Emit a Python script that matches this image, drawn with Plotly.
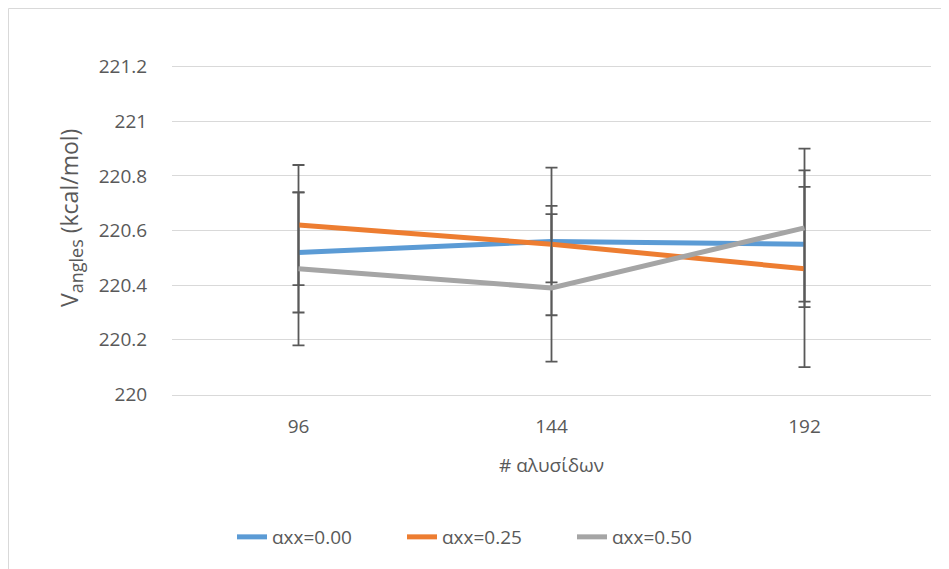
import plotly.graph_objects as go

categories = ["96", "144", "192"]
series_names = ["αxx=0.00", "αxx=0.25", "αxx=0.50"]
v_000 = [220.52, 220.56, 220.55]
v_025 = [220.62, 220.55, 220.46]
v_050 = [220.46, 220.39, 220.61]
err_000 = [0.22, 0.27, 0.21]
err_025 = [0.22, 0.14, 0.36]
err_050 = [0.28, 0.27, 0.29]
y_ticks = [220, 220.2, 220.4, 220.6, 220.8, 221, 221.2]

colors = ["#5B9BD5", "#ED7D31", "#A5A5A5"]
font_family = "'Open Sans', sans-serif"
text_color = "#595959"

OFF = 8  # page body margin
W, H = 949, 569
L, R, T, B = 164, 26, 57, 182
pw, ph = W - L - R, H - T - B

def px_x(p):
    return (p - OFF - L) / pw

def px_y(p):
    return (H - B - (p - OFF)) / ph

fig = go.Figure()
for name, vals, errs, col in zip(series_names, [v_000, v_025, v_050],
                                 [err_000, err_025, err_050], colors):
    fig.add_trace(go.Scatter(
        x=categories, y=vals, name=name, mode="lines",
        line=dict(color=col, width=5),
        error_y=dict(type="data", array=errs, visible=True,
                     color="#595959", thickness=1.8, width=6),
    ))

fig.update_layout(
    width=W, height=H,
    margin=dict(l=L, r=R, t=T, b=B),
    paper_bgcolor="white", plot_bgcolor="white",
    font=dict(family=font_family, color=text_color, size=19),
    showlegend=True,
    legend=dict(orientation="h", x=px_x(232), y=px_y(537),
                xanchor="left", yanchor="middle",
                font=dict(size=19, color=text_color),
                entrywidth=125, entrywidthmode="pixels",
                tracegroupgap=0),
    xaxis=dict(type="category", range=[-0.5, 2.5], showgrid=False,
               showline=True, linecolor="#D9D9D9", linewidth=1,
               ticks="outside", ticklen=0, ticklabelstandoff=14,
               tickfont=dict(size=19, color=text_color), zeroline=False),
    yaxis=dict(range=[219.998, 221.206], tickvals=y_ticks,
               ticktext=[f"{v:g}" for v in y_ticks],
               showgrid=True, gridcolor="#D9D9D9", gridwidth=1,
               zeroline=False, showline=False, ticks="outside", ticklen=0,
               ticklabelstandoff=20,
               tickfont=dict(size=19, color=text_color)),
    shapes=[dict(type="rect", xref="paper", yref="paper",
                 x0=(0.5 - L) / pw, x1=(W + 20 - L) / pw,
                 y0=(H - B - (H + 20)) / ph, y1=(H - B - 0.5) / ph,
                 line=dict(color="#D9D9D9", width=1), layer="below")],
    annotations=[
        dict(text="# αλυσίδων", xref="paper", yref="paper",
             x=0.5, y=px_y(465), xanchor="center", yanchor="middle",
             showarrow=False, font=dict(size=19, color=text_color)),
        dict(text="V<sub><span style='font-size:18px'>angles</span></sub> (kcal/mol)",
             xref="paper", yref="paper",
             x=px_x(70), y=px_y(218), xanchor="center", yanchor="middle",
             textangle=-90, showarrow=False,
             font=dict(size=23, color=text_color)),
    ],
)

fig.write_html("out.html")
